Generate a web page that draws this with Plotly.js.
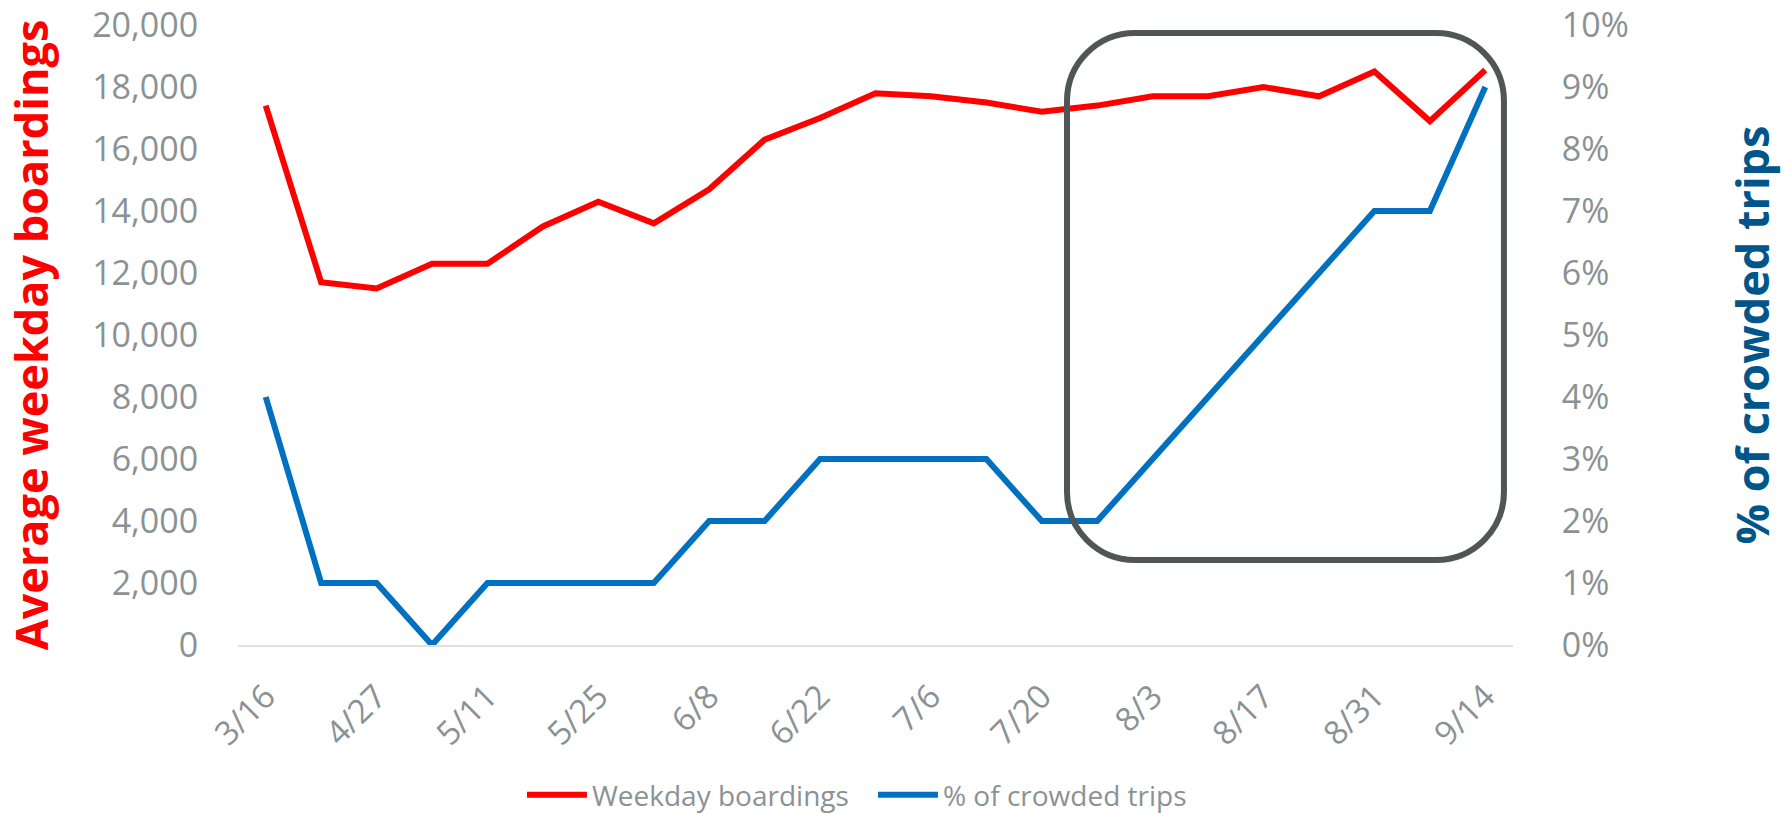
<!DOCTYPE html>
<html>
<head>
<meta charset="utf-8">
<script src="https://cdn.plot.ly/plotly-3.0.1.min.js"></script>
<style>html,body{margin:0;padding:0;background:#fff;}#chart{width:1788px;height:813px;}</style>
</head>
<body>
<div id="chart"></div>
<script>
// Data
var dates = ['3/16','4/20','4/27','5/4','5/11','5/18','5/25','6/1','6/8','6/15','6/22','6/29','7/6','7/13','7/20','7/27','8/3','8/10','8/17','8/24','8/31','9/7','9/14'];
var boardings = [17400,11700,11500,12300,12300,13500,14300,13600,14700,16300,17000,17800,17700,17500,17200,17400,17700,17700,18000,17700,18500,16900,18550];
var crowdedPct = [4,1,1,0,1,1,1,1,2,2,3,3,3,3,2,2,3,4,5,6,7,7,9];
var xTickLabels = ['3/16','4/27','5/11','5/25','6/8','6/22','7/6','7/20','8/3','8/17','8/31','9/14'];
var leftTicks = [0,2000,4000,6000,8000,10000,12000,14000,16000,18000,20000];
var rightTicks = [0,1,2,3,4,5,6,7,8,9,10];
var rightTickText = ['0%','1%','2%','3%','4%','5%','6%','7%','8%','9%','10%'];

var gray = '#8a9294';
var font = '"Open Sans", "Noto Sans", sans-serif';

var traces = [
  {x: dates, y: boardings, type: 'scatter', mode: 'lines', name: 'Weekday boardings',
   line: {color: '#ff0000', width: 6}, yaxis: 'y'},
  {x: dates, y: crowdedPct, type: 'scatter', mode: 'lines', name: '% of crowded trips',
   line: {color: '#0070c0', width: 6}, yaxis: 'y2'}
];

// rounded rectangle highlight (paper coordinates)
var x0 = 0.6502, x1 = 0.9929, y0 = 0.1371, y1 = 0.9871, rx = 0.0533, ry = 0.1097, k = 0.4477;
var path = 'M' + (x0+rx) + ',' + y1 +
  ' L' + (x1-rx) + ',' + y1 +
  ' C' + (x1-rx*k) + ',' + y1 + ' ' + x1 + ',' + (y1-ry*k) + ' ' + x1 + ',' + (y1-ry) +
  ' L' + x1 + ',' + (y0+ry) +
  ' C' + x1 + ',' + (y0+ry*k) + ' ' + (x1-rx*k) + ',' + y0 + ' ' + (x1-rx) + ',' + y0 +
  ' L' + (x0+rx) + ',' + y0 +
  ' C' + (x0+rx*k) + ',' + y0 + ' ' + x0 + ',' + (y0+ry*k) + ' ' + x0 + ',' + (y0+ry) +
  ' L' + x0 + ',' + (y1-ry) +
  ' C' + x0 + ',' + (y1-ry*k) + ' ' + (x0+rx*k) + ',' + y1 + ' ' + (x0+rx) + ',' + y1 + ' Z';

var layout = {
  width: 1788, height: 813,
  margin: {l: 238, r: 275, t: 25, b: 168, autoexpand: false},
  paper_bgcolor: '#ffffff', plot_bgcolor: '#ffffff',
  font: {family: font, color: gray},
  showlegend: true,
  legend: {orientation: 'h', x: 0.498, xanchor: 'center', y: -0.242, yanchor: 'middle',
           font: {family: font, size: 28, color: gray}, itemwidth: 60, entrywidth: 276,
           bgcolor: 'rgba(0,0,0,0)'},
  xaxis: {type: 'category', range: [-0.5, 22.5], showgrid: false, zeroline: false,
          showline: true, linecolor: '#e0e0e0', linewidth: 2,
          tickmode: 'array', tickvals: xTickLabels, ticktext: xTickLabels,
          tickangle: -45, ticks: 'outside', ticklen: 17, tickcolor: 'rgba(0,0,0,0)',
          tickfont: {family: font, size: 33, color: gray}},
  yaxis: {range: [0, 20000], tickmode: 'array', tickvals: leftTicks, tickformat: ',d',
          showgrid: false, zeroline: false, showline: false,
          ticks: 'outside', ticklen: 32, tickcolor: 'rgba(0,0,0,0)',
          tickfont: {family: font, size: 34, color: gray},
          title: {text: 'Average weekday boardings', standoff: 33,
                  font: {family: font, size: 45, color: '#ff0000', weight: 'bold'}}},
  yaxis2: {range: [0, 10], overlaying: 'y', side: 'right', tickmode: 'array', tickvals: rightTicks,
          ticktext: rightTickText, showgrid: false, zeroline: false, showline: false,
          ticks: 'outside', ticklen: 41, tickcolor: 'rgba(0,0,0,0)',
          tickfont: {family: font, size: 34, color: gray},
          title: {text: '% of crowded trips', standoff: 109,
                  font: {family: font, size: 45, color: '#00568a', weight: 'bold'}}},
  shapes: [{type: 'path', xref: 'paper', yref: 'paper', path: path,
            line: {color: '#505558', width: 6}, fillcolor: 'rgba(0,0,0,0)', layer: 'above'}]
};

Plotly.newPlot('chart', traces, layout, {displayModeBar: false, staticPlot: true});
</script>
</body>
</html>
